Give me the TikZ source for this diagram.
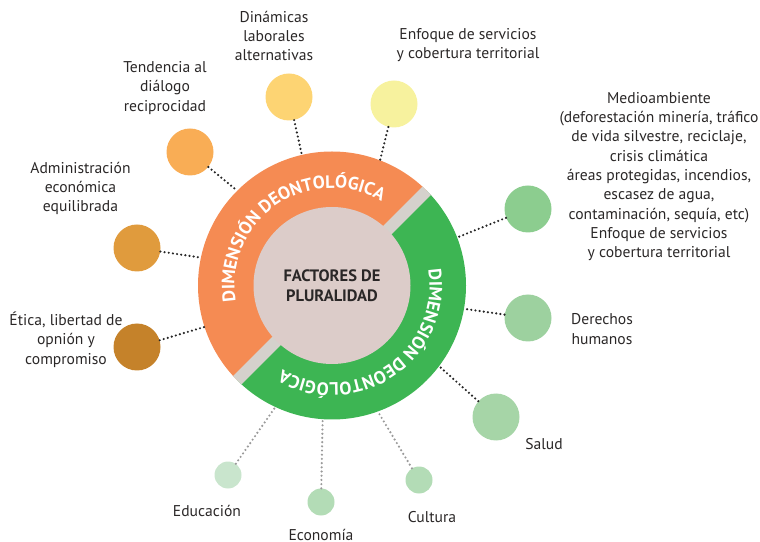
\documentclass[tikz,border=0pt]{standalone}
\usepackage{fontspec}
\setmainfont{PT Sans}
\usetikzlibrary{positioning,calc,decorations.text}
\definecolor{ringorange}{HTML}{F58B53}
\definecolor{ringgreen}{HTML}{3DB553}
\definecolor{corepink}{HTML}{DCCCC9}
\definecolor{bandgray}{HTML}{D5D1CC}
\definecolor{txtgray}{HTML}{2A2727}
\definecolor{linkgray}{HTML}{9A9A9A}
\definecolor{dotetica}{HTML}{C5822A}
\definecolor{dotadmin}{HTML}{E09B3D}
\definecolor{dottend}{HTML}{F9AD55}
\definecolor{dotdinam}{HTML}{FDD473}
\definecolor{dotenfoq}{HTML}{F7F29E}
\definecolor{dotmedio}{HTML}{8CCD8F}
\definecolor{dotderech}{HTML}{9DD19F}
\definecolor{dotsalud}{HTML}{A6D5A7}
\definecolor{doteduc}{HTML}{C9E5CD}
\definecolor{dotecon}{HTML}{B3DCB6}
\definecolor{dotcult}{HTML}{B3DCB6}

\begin{document}
\begin{tikzpicture}[x=1pt,y=1pt,
  big dot/.style={circle,inner sep=0pt,minimum size=47pt},
  small dot/.style={circle,inner sep=0pt,minimum size=27pt},
  tag text/.style={align=center,text=txtgray,inner sep=0pt,font=\fontsize{15.6}{19.3}\selectfont},
  dark link/.style={draw=black!85,line width=2.4pt,line cap=round,dash pattern=on 0pt off 4.2pt},
  grey link/.style={dark link,draw=linkgray}]
  \useasboundingbox (0,0) rectangle (760,541);
  \coordinate (c) at (332,255.5);
  \fill[ringorange] (c) -- ($(c)+(45:134)$) arc[start angle=45,end angle=225,radius=134] -- cycle;
  \fill[ringgreen]  (c) -- ($(c)+(225:134)$) arc[start angle=225,end angle=405,radius=134] -- cycle;
  \draw[bandgray,line width=12pt] ($(c)+(45:134)$) -- ($(c)+(225:134)$);
  \node[circle,inner sep=0pt,minimum size=268pt] (ring) at (c) {};
  \node[circle,fill=corepink,inner sep=0pt,minimum size=157pt,align=center,
        text=txtgray,font=\bfseries\fontsize{16.5}{20}\selectfont] (core) at (c) {FACTORES DE\\PLURALIDAD};
  \path[decorate,decoration={text along path,text align=center,
        text={|\color{white}\bfseries\fontsize{18}{18}\selectfont|DIMENSIÓN DEONTOLÓGICA}}]
    ($(c)+(209.5:97.5)$) arc[start angle=209.5,end angle=39.5,radius=97.5];
  \path[decorate,decoration={text along path,text align=center,
        text={|\color{white}\bfseries\fontsize{18}{18}\selectfont|DIMENSIÓN DEONTOLÓGICA}}]
    ($(c)+(29.5:97.5)$) arc[start angle=29.5,end angle=-140.5,radius=97.5];

  \node[big dot,fill=dotetica]   (etica)  at (137,194) {};
  \node[big dot,fill=dotadmin]   (admin)  at (137,293) {};
  \node[big dot,fill=dottend]    (tend)   at (190,389) {};
  \node[big dot,fill=dotdinam]   (dinam)  at (289,444) {};
  \node[big dot,fill=dotenfoq]   (enfoq)  at (394,437) {};
  \node[big dot,fill=dotmedio]   (medio)  at (528,332) {};
  \node[big dot,fill=dotderech]  (derech) at (528,223) {};
  \node[big dot,fill=dotsalud]   (salud)  at (496,124) {};
  \node[small dot,fill=doteduc]  (educ)   at (228,66)  {};
  \node[small dot,fill=dotecon]  (econ)   at (321,39)  {};
  \node[small dot,fill=dotcult]  (cult)   at (419,61)  {};

  \node[tag text] (etica txt)  at (66,201.5)  {Ética, libertad de\\opnión y\\compromiso};
  \node[tag text] (admin txt)  at (80.5,352.5) {Administración\\económica\\equilibrada};
  \node[tag text] (tend txt)   at (165,453)   {Tendencia al\\diálogo\\reciprocidad};
  \node[tag text] (dinam txt)  at (274,505)   {Dinámicas\\laborales\\alternativas};
  \node[tag text] (enfoq txt)  at (468,496)   {Enfoque de servicios\\y cobertura territorial};
  \node[tag text] (medio txt)  at (659,364.5) {Medioambiente\\(deforestación minería, tráfico\\de vida silvestre, reciclaje,\\crisis climática\\áreas protegidas, incendios,\\escasez de agua,\\contaminación, sequía, etc)\\Enfoque de servicios\\y cobertura territorial};
  \node[tag text] (derech txt) at (602,212)   {Derechos\\humanos};
  \node[tag text] (salud txt)  at (544,97)    {Salud};
  \node[tag text] (educ txt)   at (207,30)    {Educación};
  \node[tag text] (econ txt)   at (321,6.5)   {Economía};
  \node[tag text] (cult txt)   at (432,24)    {Cultura};

  \path[dark link]
    (etica)  edge (ring.198)
    (admin)  edge (ring.168)
    (tend)   edge (ring.135.4)
    (dinam)  edge (ring.103)
    (enfoq)  edge (ring.69.9)
    (medio)  edge (ring.21.8)
    (derech) edge (ring.-10)
    (salud)  edge (ring.-37.8);
  \path[grey link]
    (educ)   edge (ring.245.3)
    (econ)   edge (ring.266.3)
    (cult)   edge (ring.-70.3);
\end{tikzpicture}
\end{document}
